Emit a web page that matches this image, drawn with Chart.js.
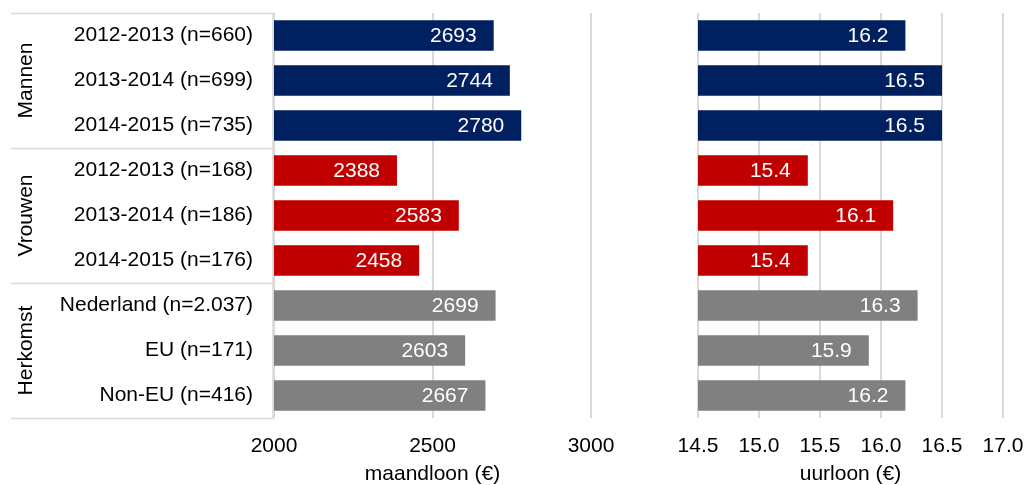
<!DOCTYPE html>
<html>
<head>
<meta charset="utf-8">
<script src="https://cdn.jsdelivr.net/npm/chart.js@4/dist/chart.umd.min.js"></script>
<style>
  body { margin: 0; background: #fff; }
  #wrap { position: relative; width: 1026px; height: 485px; overflow: hidden; }
  #wrap canvas { position: absolute; left: 0; top: 0; }
</style>
</head>
<body>
<div id="wrap">
  <canvas id="maand" width="1026" height="487"></canvas>
  <canvas id="uur" width="1026" height="487"></canvas>
</div>
<script>
// categorieën en groepen
const categories = [
  '2012-2013 (n=660)', '2013-2014 (n=699)', '2014-2015 (n=735)',
  '2012-2013 (n=168)', '2013-2014 (n=186)', '2014-2015 (n=176)',
  'Nederland (n=2.037)', 'EU (n=171)', 'Non-EU (n=416)'
];
const groups = ['Mannen', 'Vrouwen', 'Herkomst'];
const groupSize = 3;

// waarden
const maandloon = [2693, 2744, 2780, 2388, 2583, 2458, 2699, 2603, 2667];
const uurloon = [16.2, 16.5, 16.5, 15.4, 16.1, 15.4, 16.3, 15.9, 16.2];

const maandTicks = [2000, 2500, 3000];
const uurTicks = [14.5, 15.0, 15.5, 16.0, 16.5, 17.0];

const groupColors = ['#002060', '#C00000', '#808080'];
const barColors = categories.map((c, i) => groupColors[Math.floor(i / groupSize)]);

const FONT = "'Liberation Sans', Arial, sans-serif";
Chart.defaults.font.family = FONT;
Chart.defaults.font.size = 21;
Chart.defaults.color = '#000';

const gridColor = '#d9d9d9';
const TOP = 13;
const AXIS_H = 69;

// waarde-labels in de balken
const barLabels = {
  id: 'barLabels',
  afterDatasetsDraw(chart, args, opts) {
    const ctx = chart.ctx;
    const meta = chart.getDatasetMeta(0);
    const data = chart.data.datasets[0].data;
    ctx.save();
    ctx.font = '21px ' + FONT;
    ctx.fillStyle = '#fff';
    ctx.textAlign = 'right';
    ctx.textBaseline = 'middle';
    meta.data.forEach((bar, i) => {
      ctx.fillText(opts.format(data[i]), bar.x - 17, bar.y + 1);
    });
    ctx.restore();
  }
};

// groepskader met gedraaide groepsnamen links
const groupBox = {
  id: 'groupBox',
  afterDraw(chart) {
    const ctx = chart.ctx;
    const area = chart.chartArea;
    const row = (area.bottom - area.top) / categories.length;
    ctx.save();
    ctx.strokeStyle = gridColor;
    ctx.lineWidth = 1.5;
    for (let g = 0; g <= groups.length; g++) {
      const yy = Math.round(area.top + g * groupSize * row) + 0.5;
      ctx.beginPath();
      ctx.moveTo(11, yy);
      ctx.lineTo(area.left, yy);
      ctx.stroke();
    }
    ctx.beginPath();
    ctx.moveTo(area.left - 1, area.top);
    ctx.lineTo(area.left - 1, area.bottom);
    ctx.stroke();

    ctx.fillStyle = '#000';
    ctx.font = '21px ' + FONT;
    ctx.textAlign = 'center';
    ctx.textBaseline = 'middle';
    groups.forEach((name, g) => {
      const cy = area.top + (g * groupSize + groupSize / 2) * row;
      ctx.save();
      ctx.translate(26, cy);
      ctx.rotate(-Math.PI / 2);
      ctx.fillText(name, 0, 0);
      ctx.restore();
    });
    ctx.restore();
  }
};

// vaste hoogte voor de x-as, zonder extra zijmarge voor de labels
function fixedHeight(scale) {
  scale.height = AXIS_H;
  scale.paddingLeft = 0;
  scale.paddingRight = 0;
}

// maandloon (links)
new Chart(document.getElementById('maand'), {
  type: 'bar',
  data: {
    labels: categories,
    datasets: [{ data: maandloon, backgroundColor: barColors, barPercentage: 0.68, categoryPercentage: 1 }]
  },
  options: {
    indexAxis: 'y',
    responsive: false,
    animation: false,
    devicePixelRatio: 1,
    layout: { padding: { top: TOP, right: 435, left: 0, bottom: 0 } },
    plugins: {
      legend: { display: false },
      tooltip: { enabled: false },
      barLabels: { format: v => String(v) }
    },
    scales: {
      x: {
        min: 2000, max: 3000,
        afterBuildTicks: s => { s.ticks = maandTicks.map(v => ({ value: v })); },
        afterFit: fixedHeight,
        grid: { color: gridColor, lineWidth: 2, drawTicks: false },
        border: { display: false },
        ticks: { padding: 16, callback: v => String(v) },
        title: { display: true, text: 'maandloon (€)', padding: { top: 0, bottom: 0 } }
      },
      y: {
        afterFit: s => { s.width = 274; s.paddingTop = 0; s.paddingBottom = 0; },
        grid: { display: false, drawTicks: false },
        border: { display: false },
        ticks: { padding: 21 }
      }
    }
  },
  plugins: [barLabels, groupBox]
});

// uurloon (rechts)
new Chart(document.getElementById('uur'), {
  type: 'bar',
  data: {
    labels: categories,
    datasets: [{ data: uurloon, backgroundColor: barColors, barPercentage: 0.68, categoryPercentage: 1 }]
  },
  options: {
    indexAxis: 'y',
    responsive: false,
    animation: false,
    devicePixelRatio: 1,
    layout: { padding: { top: TOP, right: 23, left: 698, bottom: 0 } },
    plugins: {
      legend: { display: false },
      tooltip: { enabled: false },
      barLabels: { format: v => v.toFixed(1) }
    },
    scales: {
      x: {
        min: 14.5, max: 17.0,
        afterBuildTicks: s => { s.ticks = uurTicks.map(v => ({ value: v })); },
        afterFit: fixedHeight,
        grid: { color: gridColor, lineWidth: 2, drawTicks: false },
        border: { display: false },
        ticks: { padding: 16, callback: v => Number(v).toFixed(1) },
        title: { display: true, text: 'uurloon (€)', padding: { top: 0, bottom: 0 } }
      },
      y: { display: false }
    }
  },
  plugins: [barLabels]
});
</script>
</body>
</html>
